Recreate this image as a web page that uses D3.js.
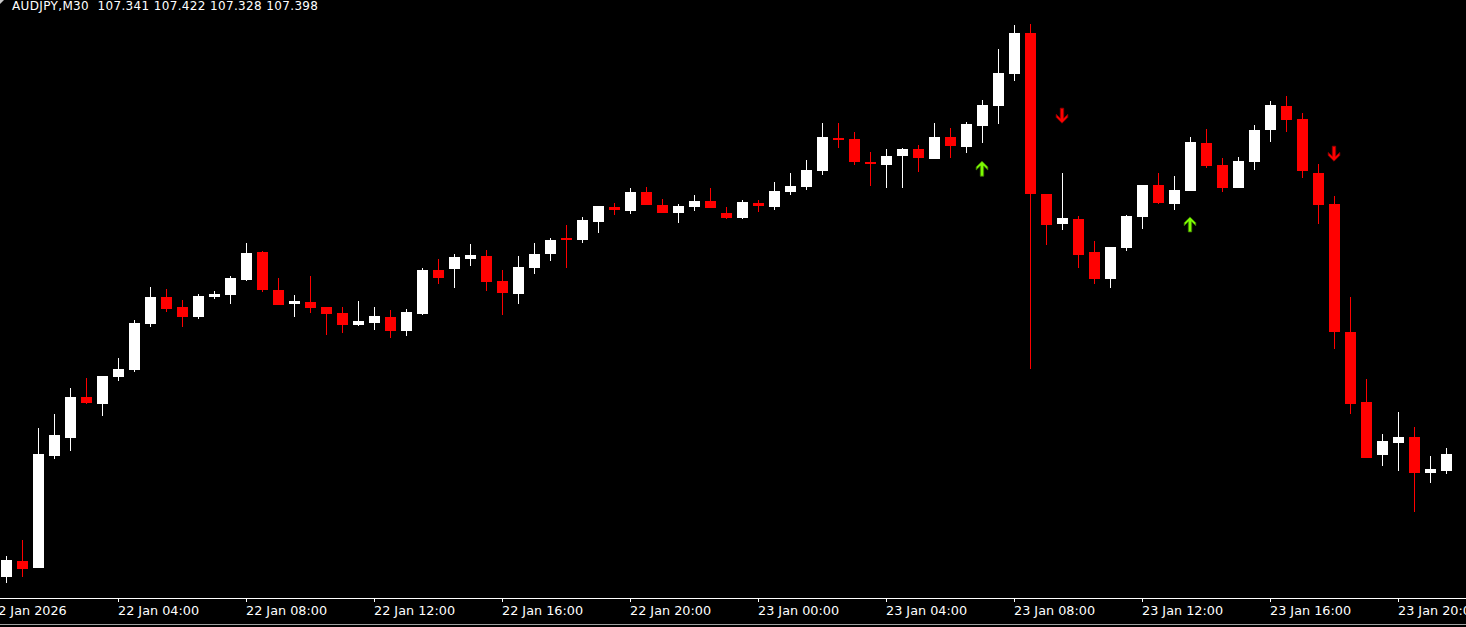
<!DOCTYPE html>
<html>
<head>
<meta charset="utf-8">
<script src="https://cdn.jsdelivr.net/npm/d3@7"></script>
<style>
  html, body { margin: 0; padding: 0; background: #000; overflow: hidden; }
  svg { display: block; }
  .axis-label { font-family: 'DejaVu Sans', sans-serif !important; font-size: 12.8px !important; }
</style>
</head>
<body>
<svg id="chart" width="1466" height="627"></svg>
<script>
// ---- data (AUDJPY, M30) ----
const symbolTitle = "AUDJPY,M30";
const opens = [106.970,107.026,107.001,107.393,107.456,107.599,107.575,107.670,107.694,107.854,
  107.949,107.914,107.879,107.949,107.957,108.008,108.106,107.973,107.924,107.931,
  107.914,107.893,107.851,107.858,107.879,107.830,107.889,108.043,108.047,108.082,
  108.092,108.005,107.959,108.050,108.099,108.155,108.148,108.211,108.264,108.250,
  108.316,108.271,108.243,108.264,108.285,108.243,108.225,108.278,108.264,108.316,
  108.334,108.390,108.505,108.502,108.421,108.411,108.442,108.467,108.432,108.509,
  108.474,108.547,108.617,108.729,108.873,108.309,108.204,108.222,108.106,108.012,
  108.120,108.229,108.341,108.274,108.320,108.488,108.411,108.330,108.421,108.533,
  108.617,108.572,108.383,108.274,107.826,107.581,107.396,107.438,107.459,107.333,
  107.341];
const highs = [107.042,107.098,107.490,107.539,107.630,107.665,107.672,107.735,107.868,107.984,
  107.977,107.938,107.959,107.970,108.022,108.138,108.108,108.015,107.956,108.022,
  107.914,107.914,107.935,107.914,107.903,107.907,108.050,108.082,108.099,108.134,
  108.113,108.043,108.092,108.138,108.155,108.201,108.229,108.268,108.278,108.330,
  108.334,108.292,108.274,108.306,108.330,108.264,108.288,108.288,108.351,108.383,
  108.428,108.558,108.558,108.526,108.456,108.467,108.470,108.481,108.558,108.540,
  108.561,108.638,108.817,108.901,108.904,108.310,108.383,108.232,108.145,108.125,
  108.236,108.342,108.383,108.372,108.509,108.537,108.435,108.439,108.551,108.635,
  108.652,108.593,108.414,108.302,107.949,107.662,107.469,107.546,107.494,107.392,
  107.422];
const lows = [106.949,106.970,106.999,107.383,107.411,107.575,107.533,107.656,107.687,107.844,
  107.896,107.844,107.872,107.942,107.925,108.005,107.967,107.920,107.879,107.893,
  107.816,107.823,107.847,107.833,107.805,107.812,107.886,107.994,107.980,108.057,
  107.970,107.886,107.924,108.029,108.075,108.050,108.138,108.173,108.236,108.239,
  108.270,108.242,108.208,108.250,108.259,108.222,108.222,108.246,108.253,108.306,
  108.323,108.376,108.470,108.411,108.337,108.330,108.330,108.386,108.431,108.435,
  108.453,108.488,108.554,108.705,107.697,108.131,108.183,108.050,107.994,107.980,
  108.110,108.187,108.274,108.253,108.319,108.400,108.316,108.329,108.393,108.491,
  108.526,108.365,108.204,107.767,107.539,107.384,107.357,107.340,107.196,107.298,
  107.328];
const closes = [107.028,106.998,107.399,107.466,107.599,107.579,107.672,107.697,107.858,107.949,
  107.907,107.879,107.952,107.959,108.015,108.103,107.973,107.921,107.935,107.910,
  107.889,107.851,107.865,107.882,107.830,107.896,108.043,108.015,108.089,108.096,
  108.001,107.963,108.054,108.099,108.148,108.148,108.218,108.267,108.253,108.316,
  108.271,108.243,108.267,108.285,108.260,108.225,108.281,108.267,108.320,108.337,
  108.393,108.509,108.498,108.421,108.414,108.442,108.467,108.435,108.509,108.477,
  108.554,108.621,108.733,108.873,108.309,108.201,108.225,108.096,108.012,108.124,
  108.232,108.341,108.278,108.323,108.491,108.407,108.330,108.425,108.533,108.621,
  108.568,108.390,108.271,107.826,107.574,107.385,107.445,107.459,107.333,107.347,
  107.398];

// signal arrows (bar index, price at arrow tip)
const upArrowBars = [61, 74];
const upArrowPrices = [108.424, 108.229];
const downArrowBars = [66, 83];
const downArrowPrices = [108.557, 108.424];

// time axis
const tickBars = [-1, 7, 15, 23, 31, 39, 47, 55, 63, 71, 79, 87];
const tickLabels = ["22 Jan 2026","22 Jan 04:00","22 Jan 08:00","22 Jan 12:00","22 Jan 16:00",
  "22 Jan 20:00","23 Jan 00:00","23 Jan 04:00","23 Jan 08:00","23 Jan 12:00","23 Jan 16:00","23 Jan 20:00"];

// ---- drawing ----
const W = 1466, H = 627;
const plotBottom = 598;
const svg = d3.select("#chart");
svg.append("rect").attr("width", W).attr("height", H).attr("fill", "#000");

const n = opens.length;
const x = d3.scaleLinear().domain([0, n - 1]).range([6.5, 6.5 + 16 * (n - 1)]);
const y = d3.scaleLinear().domain([106.899, 108.988]).range([597, 0]);

const bars = d3.range(n).map(i => ({i, o: opens[i], h: highs[i], l: lows[i], c: closes[i]}));
const col = d => d.c >= d.o ? "#ffffff" : "#ff0000";

const g = svg.append("g");
// wicks
g.selectAll("rect.wick").data(bars).join("rect")
  .attr("class", "wick")
  .attr("x", d => x(d.i) - 0.5)
  .attr("width", 1)
  .attr("y", d => Math.round(y(d.h)))
  .attr("height", d => Math.max(1, Math.round(y(d.l)) - Math.round(y(d.h))))
  .attr("fill", col)
  .attr("shape-rendering", "crispEdges");
// bodies
g.selectAll("rect.body").data(bars).join("rect")
  .attr("class", "body")
  .attr("x", d => x(d.i) - 5.5)
  .attr("width", 11)
  .attr("y", d => Math.round(y(Math.max(d.o, d.c))))
  .attr("height", d => Math.max(1, Math.round(y(Math.min(d.o, d.c))) - Math.round(y(Math.max(d.o, d.c)))))
  .attr("fill", col)
  .attr("shape-rendering", "crispEdges");

// arrows
const upPath = "M0,0 L5.8,5.8 L5.8,8.8 L1.7,4.9 L1.7,15 L-1.7,15 L-1.7,4.9 L-5.8,8.8 L-5.8,5.8 Z";
const downPath = "M0,0 L5.8,-5.8 L5.8,-8.8 L1.7,-4.9 L1.7,-15 L-1.7,-15 L-1.7,-4.9 L-5.8,-8.8 L-5.8,-5.8 Z";
const ups = upArrowBars.map((b, k) => ({b, p: upArrowPrices[k]}));
const downs = downArrowBars.map((b, k) => ({b, p: downArrowPrices[k]}));
svg.selectAll("path.up").data(ups).join("path")
  .attr("class", "up")
  .attr("d", upPath)
  .attr("transform", d => `translate(${x(d.b) - 0.5},${y(d.p)})`)
  .attr("fill", "#7cfc00")
  .attr("stroke", "#3d7a00")
  .attr("stroke-width", 0.8);
svg.selectAll("path.down").data(downs).join("path")
  .attr("class", "down")
  .attr("d", downPath)
  .attr("transform", d => `translate(${x(d.b) - 0.5},${y(d.p)})`)
  .attr("fill", "#ff0000")
  .attr("stroke", "#8a0000")
  .attr("stroke-width", 0.8);

// time axis
svg.append("rect").attr("x", 0).attr("y", plotBottom).attr("width", W).attr("height", 1)
  .attr("fill", "#ffffff").attr("shape-rendering", "crispEdges");
const axis = d3.axisBottom(x)
  .tickValues(tickBars)
  .tickSize(4)
  .offset(0)
  .tickFormat((d, i) => tickLabels[i]);
const ax = svg.append("g").attr("transform", `translate(0,${plotBottom})`).call(axis);
ax.attr("font-size", 12.8).attr("font-family", "'DejaVu Sans', sans-serif");
ax.select(".domain").remove();
ax.selectAll(".tick line").attr("stroke", "#ffffff").attr("shape-rendering", "crispEdges");
ax.selectAll(".tick text")
  .attr("class", "axis-label")
  .attr("fill", "#ffffff")
  .attr("text-anchor", "start")
  .attr("x", -0.5)
  .attr("y", 17)
  .attr("dy", 0)
  .attr("font-size", 12.8);

// bottom border
svg.append("rect").attr("x", 0).attr("y", 624).attr("width", W).attr("height", 1)
  .attr("fill", "#a0a0a0").attr("shape-rendering", "crispEdges");

// header
svg.append("polygon").attr("points", "0,0 4,0 0,4").attr("fill", "#c8c8c8");
svg.append("text")
  .attr("x", 12).attr("y", 10)
  .attr("fill", "#ffffff")
  .attr("textLength", 306)
  .attr("lengthAdjust", "spacing")
  .style("white-space", "pre")
  .style("font-family", "'DejaVu Sans', sans-serif")
  .style("font-size", "12px")
  .text(`${symbolTitle}  ${opens[n-1].toFixed(3)} ${highs[n-1].toFixed(3)} ${lows[n-1].toFixed(3)} ${closes[n-1].toFixed(3)}`);
</script>
</body>
</html>
